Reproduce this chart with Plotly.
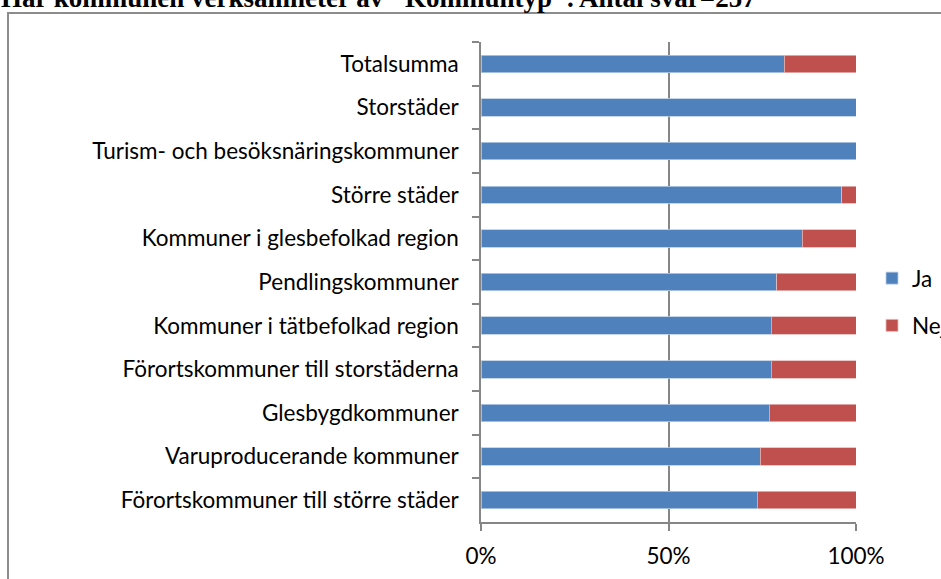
import plotly.graph_objects as go

categories = [
    "Totalsumma",
    "Storstäder",
    "Turism- och besöksnäringskommuner",
    "Större städer",
    "Kommuner i glesbefolkad region",
    "Pendlingskommuner",
    "Kommuner i tätbefolkad region",
    "Förortskommuner till storstäderna",
    "Glesbygdkommuner",
    "Varuproducerande kommuner",
    "Förortskommuner till större städer",
]
ja = [80.9, 100, 100, 96.2, 85.7, 78.9, 77.4, 77.4, 76.9, 74.5, 73.7]
nej = [round(100 - v, 1) for v in ja]
x_ticks = [0, 50, 100]
x_ticktext = ["0%", "50%", "100%"]
title_text = 'Har kommunen verksamheter av" Kommuntyp". Antal svar=257'

W, H = 941, 579
L, R, T, B = 481, 85, 42, 57
pw, ph = W - L - R, H - T - B

fig = go.Figure()
fig.add_trace(go.Bar(
    y=categories, x=ja, name="Ja", orientation="h",
    marker=dict(color="#4F81BD", line=dict(color="#B9CDE5", width=0.8)),
    legendgroup="ja",
))
fig.add_trace(go.Bar(
    y=categories, x=nej, name="Nej", orientation="h",
    marker=dict(color="#C0504D", line=dict(color="#E6B9B8", width=0.8)),
    legendgroup="nej",
))

font_lbl = "Lato, 'Open Sans', sans-serif"
FS = 22.5
fig.update_layout(
    width=W, height=H,
    barmode="stack", bargap=0.6,
    plot_bgcolor="white", paper_bgcolor="white",
    margin=dict(l=L, r=R, t=T, b=B, autoexpand=False),
    font=dict(family=font_lbl, size=FS, color="black"),
    showlegend=True,
    legend=dict(
        x=(872 - L) / pw, y=1 - (257 - T) / ph, xanchor="left", yanchor="top",
        traceorder="grouped", tracegroupgap=15,
        font=dict(family=font_lbl, size=FS, color="black"),
        bgcolor="rgba(0,0,0,0)",
    ),
    xaxis=dict(
        range=[0, 100], tickvals=x_ticks, ticktext=x_ticktext,
        showgrid=True, gridcolor="#868686", gridwidth=1.5,
        showline=True, linecolor="#868686", linewidth=1.5,
        ticks="outside", ticklen=7, tickcolor="#868686", tickwidth=1.5,
        ticklabelstandoff=6, zeroline=False,
    ),
    yaxis=dict(
        autorange="reversed", type="category",
        showline=True, linecolor="#868686", linewidth=1.5,
        ticks="outside", ticklen=7, tickcolor="#868686", tickwidth=1.5,
        tickson="boundaries", ticklabelstandoff=16, showgrid=False,
    ),
)

# outer chart border (partially cut off at right and bottom)
fig.add_shape(
    type="rect", xref="paper", yref="paper",
    x0=(8 - L) / pw, x1=(W + 10 - L) / pw,
    y0=-(H + 10 - (H - B)) / ph, y1=1 + (T - 13) / ph,
    line=dict(color="#8C8C8C", width=2), fillcolor="rgba(0,0,0,0)", layer="below",
)

fig.add_annotation(
    text="<b>" + title_text + "</b>", xref="paper", yref="paper",
    x=(-1 - L) / pw, y=1 + (T - 15) / ph, xanchor="left", yanchor="bottom",
    showarrow=False, font=dict(family="'Liberation Serif', 'Times New Roman', serif", size=27, color="black"),
)

fig.write_html(
    "out.html",
    config={"displayModeBar": False},
    post_script="document.body.style.margin='0';document.body.style.overflow='hidden';",
)
